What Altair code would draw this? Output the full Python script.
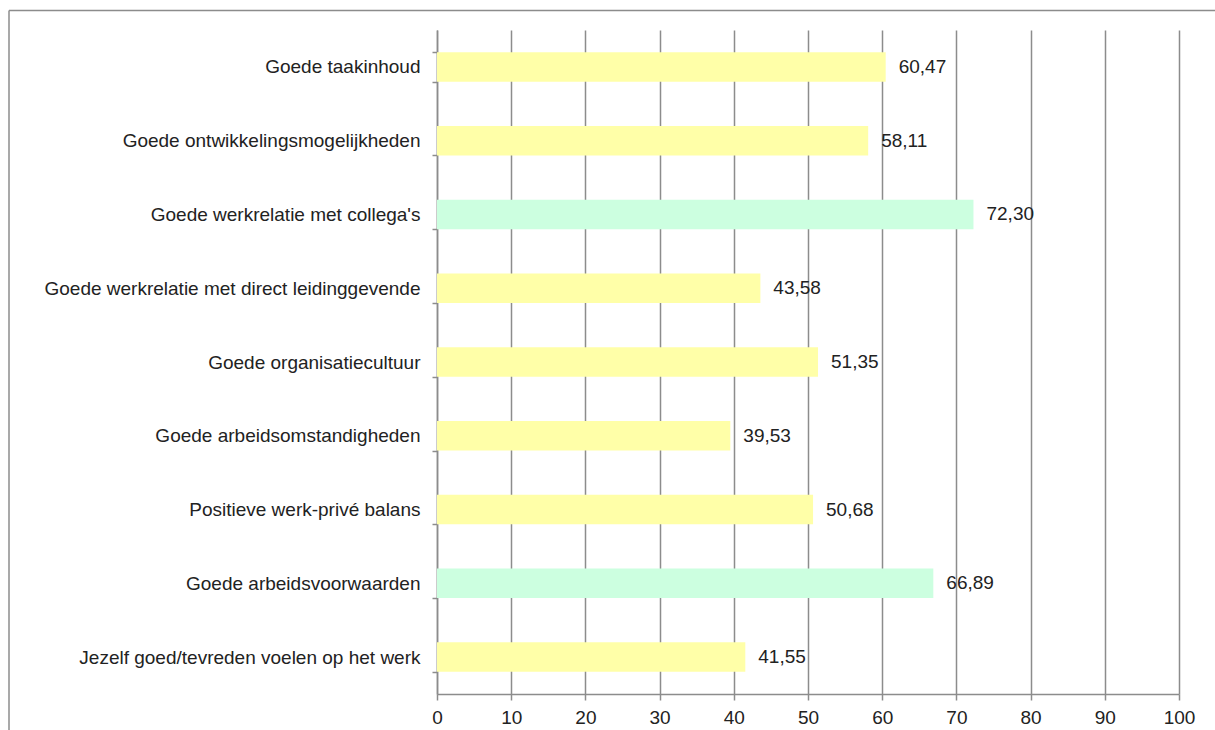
import altair as alt
import pandas as pd

categories = [
    "Goede taakinhoud",
    "Goede ontwikkelingsmogelijkheden",
    "Goede werkrelatie met collega's",
    "Goede werkrelatie met direct leidinggevende",
    "Goede organisatiecultuur",
    "Goede arbeidsomstandigheden",
    "Positieve werk-privé balans",
    "Goede arbeidsvoorwaarden",
    "Jezelf goed/tevreden voelen op het werk",
]
values = [60.47, 58.11, 72.30, 43.58, 51.35, 39.53, 50.68, 66.89, 41.55]
groups = ["geel", "geel", "groen", "geel", "geel", "geel", "geel", "groen", "geel"]
x_ticks = [0, 10, 20, 30, 40, 50, 60, 70, 80, 90, 100]

df = pd.DataFrame({
    "categorie": categories,
    "waarde": values,
    "groep": groups,
    "label": [f"{v:.2f}".replace(".", ",") for v in values],
})

FONT = "Liberation Sans"
FS = 19
W, H = 742, 664
PAD_L, PAD_T = 437, 30

y_enc = alt.Y(
    "categorie:N",
    sort=None,
    scale=alt.Scale(paddingInner=0.6, paddingOuter=0.3),
    axis=alt.Axis(
        title=None,
        tickBand="extent",
        grid=False,
        domainColor="#8c8c8c",
        domainWidth=1.5,
        tickColor="#8c8c8c",
        tickWidth=1.5,
        tickSize=5,
        labelPadding=12,
        labelFont=FONT,
        labelFontSize=FS,
        labelColor="#222222",
        labelLimit=500,
    ),
)

x_enc = alt.X(
    "waarde:Q",
    scale=alt.Scale(domain=[0, 100], nice=False),
    axis=alt.Axis(
        title=None,
        values=x_ticks,
        grid=True,
        gridColor="#8c8c8c",
        gridWidth=1.5,
        domainColor="#8c8c8c",
        domainWidth=1.5,
        tickColor="#8c8c8c",
        tickWidth=1.5,
        tickSize=6,
        labelPadding=8,
        labelFont=FONT,
        labelFontSize=FS,
        labelColor="#222222",
        labelFlush=False,
    ),
)

bars = alt.Chart(df).mark_bar().encode(
    y=y_enc,
    x=x_enc,
    color=alt.Color(
        "groep:N",
        scale=alt.Scale(domain=["geel", "groen"], range=["#ffffa8", "#ccffe0"]),
        legend=None,
    ),
)

text = alt.Chart(df).mark_text(
    align="left", baseline="middle", dx=13, font=FONT, fontSize=FS, color="#222222"
).encode(
    y=alt.Y("categorie:N", sort=None),
    x=alt.X("waarde:Q"),
    text="label:N",
)

frame_df = pd.DataFrame({"k": [0]})
frame_left = alt.Chart(frame_df).mark_rule(color="#8c8c8c", strokeWidth=1.5, clip=False).encode(
    x=alt.value(9 - PAD_L), y=alt.value(10.5 - PAD_T), y2=alt.value(730 - PAD_T)
)
frame_top = alt.Chart(frame_df).mark_rule(color="#8c8c8c", strokeWidth=1.5, clip=False).encode(
    x=alt.value(9 - PAD_L), x2=alt.value(1215 - PAD_L), y=alt.value(10.5 - PAD_T)
)

chart = alt.layer(bars, text, frame_left, frame_top).properties(
    width=W,
    height=H,
    padding={"left": PAD_L, "top": PAD_T, "right": 1215 - PAD_L - W, "bottom": 730 - PAD_T - H},
    autosize=alt.AutoSizeParams(type="none"),
    background="white",
).configure_view(stroke=None)

chart.save("out.html", embed_options={"renderer": "svg", "actions": False})
